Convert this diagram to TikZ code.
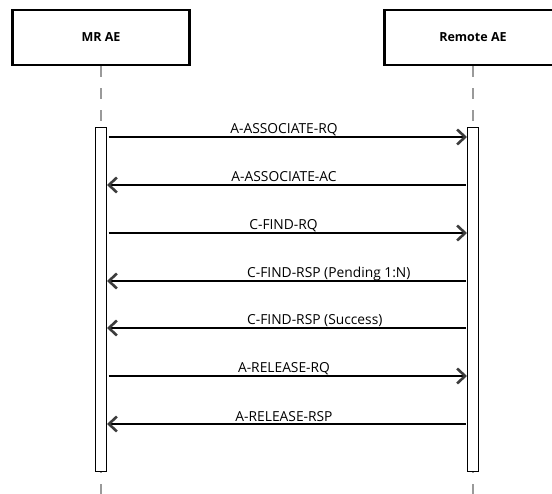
\documentclass[tikz,border=0pt]{standalone}
\usepackage{fontspec}
\setmainfont{Open Sans}
\usetikzlibrary{arrows.meta}
\definecolor{lifegray}{HTML}{9A9A9A}
\definecolor{tipgray}{HTML}{3C3C3C}
\begin{document}
\begin{tikzpicture}[x=1pt,y=-1pt,
  actor/.style={draw=black, line width=2.6pt, fill=white, minimum width=177pt, minimum height=55pt, inner sep=0pt, font=\bfseries\fontsize{12.5}{14}\selectfont},
  life/.style={draw=lifegray, line width=1.5pt, dash pattern=on 11pt off 11pt},
  actbar/.style={draw=black, line width=1pt, fill=white, minimum width=11pt, minimum height=343pt, inner sep=0pt},
  msg/.style={draw=black, line width=2pt, -{Straight Barb[length=8pt,width=15pt,line width=2.6pt,color=tipgray]}},
  lbl/.style={font=\fontsize{13.8}{15}\selectfont, inner sep=0pt, anchor=base}
]
\useasboundingbox (0,0) rectangle (552,494);
\clip (0,0) rectangle (552,494);
\fill[white] (0,0) rectangle (552,494);

\node[actor] (mr) at (101,37.5) {MR AE};
\node[actor] (rem) at (473,37.5) {Remote AE};

\coordinate (mrend) at (101,494);
\coordinate (remend) at (473,494);
\draw[life] (mr.south) -- (mrend);
\draw[life] (rem.south) -- (remend);

\node[actbar] (mrbar) at (101,299.5) {};
\node[actbar] (rembar) at (473,299.5) {};

\foreach \i/\y in {1/137,2/185,3/233,4/281,5/328,6/376,7/424}
  \coordinate (y\i) at (0,\y);

\draw[msg, shorten <=1.5pt] (mrbar.east |- y1) -- (rembar.west |- y1);
\draw[msg, shorten <=1.5pt] (rembar.west |- y2) -- (mrbar.east |- y2);
\draw[msg, shorten <=1.5pt] (mrbar.east |- y3) -- (rembar.west |- y3);
\draw[msg, shorten <=1.5pt] (rembar.west |- y4) -- (mrbar.east |- y4);
\draw[msg, shorten <=1.5pt] (rembar.west |- y5) -- (mrbar.east |- y5);
\draw[msg, shorten <=1.5pt] (mrbar.east |- y6) -- (rembar.west |- y6);
\draw[msg, shorten <=1.5pt] (rembar.west |- y7) -- (mrbar.east |- y7);

\node[lbl] (l1) at (284,134) {A-ASSOCIATE-RQ};
\node[lbl] (l2) at (284,182) {A-ASSOCIATE-AC};
\node[lbl] (l3) at (283.5,230) {C-FIND-RQ};
\node[lbl, anchor=base west] (l4) at (247,278) {C-FIND-RSP (Pending 1:N)};
\node[lbl, anchor=base west] (l5) at (247,325) {C-FIND-RSP (Success)};
\node[lbl] (l6) at (284,373) {A-RELEASE-RQ};
\node[lbl] (l7) at (284,421) {A-RELEASE-RSP};
\end{tikzpicture}
\end{document}
